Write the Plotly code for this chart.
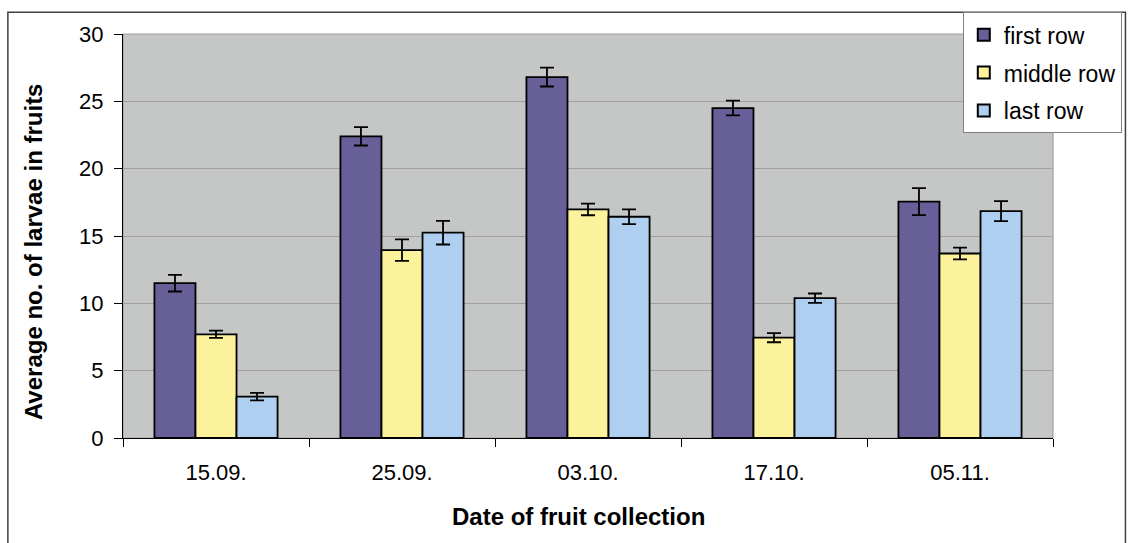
import plotly.graph_objects as go

dates = ["15.09.", "25.09.", "03.10.", "17.10.", "05.11."]
series_names = ["first row", "middle row", "last row"]
first_row = [11.5, 22.4, 26.8, 24.5, 17.55]
first_err = [0.62, 0.68, 0.70, 0.55, 1.00]
middle_row = [7.7, 13.95, 16.97, 7.45, 13.7]
middle_err = [0.27, 0.80, 0.43, 0.34, 0.43]
last_row = [3.07, 15.25, 16.43, 10.38, 16.85]
last_err = [0.28, 0.88, 0.55, 0.35, 0.74]
y_ticks = [0, 5, 10, 15, 20, 25, 30]

colors = ["#675f97", "#fdf29c", "#aecff0"]
values = [first_row, middle_row, last_row]
errors = [first_err, middle_err, last_err]

FONT = "Liberation Sans, Arial, sans-serif"

fig = go.Figure()
for name, vals, errs, col in zip(series_names, values, errors, colors):
    fig.add_trace(go.Bar(
        x=dates, y=vals, name=name, legendgroup=name,
        marker=dict(color=col, line=dict(color="black", width=1.8)),
        error_y=dict(type="data", array=errs, visible=True,
                     color="black", thickness=1.8, width=7),
    ))

fig.update_layout(
    width=1134, height=543,
    margin=dict(l=123, r=74, t=31, b=105),
    paper_bgcolor="white", plot_bgcolor="#c5c6c6",
    barmode="group", bargap=0.338, bargroupgap=0,
    font=dict(family=FONT, size=22, color="black"),
    legend=dict(x=0.903, y=1.054, xanchor="left", yanchor="top",
                bgcolor="white", bordercolor="#808080", borderwidth=1,
                font=dict(size=23), tracegroupgap=5,
                itemsizing="constant"),
    xaxis=dict(tickson="boundaries", ticks="outside", ticklen=8,
               tickcolor="black", showline=True, linecolor="black",
               linewidth=1.2, tickfont=dict(size=22), showgrid=False,
               ticklabelstandoff=14),
    yaxis=dict(range=[0, 30], tickvals=y_ticks, ticks="outside", ticklen=8,
               tickcolor="black", showline=True, linecolor="black",
               linewidth=1.2, gridcolor="#a0a0a0", gridwidth=1.2,
               zeroline=False, tickfont=dict(size=22), ticklabelstandoff=6),
    shapes=[
        dict(type="rect", xref="paper", yref="paper", x0=0, x1=1, y0=0, y1=1,
             line=dict(color="#a0a0a0", width=1.2), layer="below"),
        dict(type="rect", xref="paper", yref="paper", x0=-0.1238, x1=1.0779,
             y0=-0.35, y1=1.054, line=dict(color="#404040", width=1.5)),
    ],
    annotations=[
        dict(text="<b>Date of fruit collection</b>", xref="paper", yref="paper",
             x=0.49, y=-0.194, showarrow=False, xanchor="center", yanchor="middle",
             font=dict(size=24)),
        dict(text="<b>Average no. of larvae in fruits</b>", xref="paper", yref="paper",
             x=-0.096, y=0.462, showarrow=False, textangle=-90,
             xanchor="center", yanchor="middle", font=dict(size=24)),
    ],
)

fig.write_html("out.html",
               config={"displayModeBar": False},
               post_script="document.body.style.margin='0';"
                           "document.body.style.overflow='hidden';")
